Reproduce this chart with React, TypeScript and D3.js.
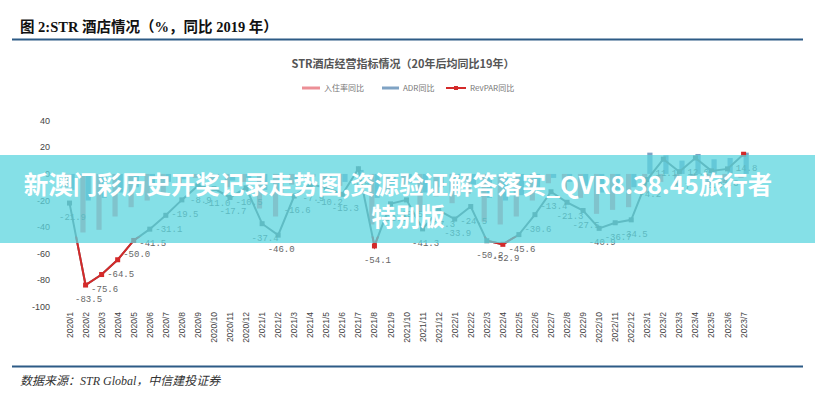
import React from 'react';
import * as d3 from 'd3';

const months = [
  '2020/1', '2020/2', '2020/3', '2020/4', '2020/5', '2020/6', '2020/7', '2020/8', '2020/9', '2020/10', '2020/11', '2020/12',
  '2021/1', '2021/2', '2021/3', '2021/4', '2021/5', '2021/6', '2021/7', '2021/8', '2021/9', '2021/10', '2021/11', '2021/12',
  '2022/1', '2022/2', '2022/3', '2022/4', '2022/5', '2022/6', '2022/7', '2022/8', '2022/9', '2022/10', '2022/11', '2022/12',
  '2023/1', '2023/2', '2023/3', '2023/4', '2023/5', '2023/6', '2023/7',
];

// RevPAR同比
const revpar = [
  -21.9, -83.5, -75.6, -64.5, -50.0, -41.5, -31.1, -19.5, -8.9, -11.0, -17.7, -10.5,
  -37.4, -46.0, -16.6, -7.9, -10.2, -15.3, 3.9, -54.1, -22.5, -19.5, -41.3, -27.3,
  -33.9, -24.5, -50.2, -52.9, -45.6, -30.6, -13.4, -21.3, -27.5, -40.9, -36.7, -34.5,
  -4.2, 11.1, 1.7, 12.0, 2.3, 3.8, 14.8,
];

// 入住率同比
const occupancy = [
  -10, -44, -42, -32, -25, -20, -14, -8, -3, -5, -10, -6,
  -26, -32, -8, -3, -5, -9, 0, -38, -12, -10, -28, -17,
  -22, -15, -36, -38, -32, -20, -7, -13, -18, -30, -27, -25,
  -14, -6, -9, -4, -8, -7, -3,
];

// ADR同比
const adr = [
  -12, -20, -18, -14, -10, -8, -6, -4, -2, -3, -5, -3,
  -12, -14, -6, -2, -4, -6, 3, -18, -8, -7, -14, -10,
  -12, -8, -18, -20, -16, -10, -3, -6, -9, -14, -12, -10,
  16, 14, 10, 15, 11, 12, 16,
];

// markers drawn in red
const redMarks = ['2020/2', '2020/3', '2020/4', '2020/5', '2021/8', '2022/4', '2023/7'];

const yTicks = [40, 20, 0, -20, -40, -60, -80, -100];

const W = 815;
const H = 400;

const App: React.FC = () => {
  const x = d3.scaleBand<string>().domain(months).range([61.5, 751.6]).paddingInner(0.35).paddingOuter(0.175);
  const xc = (m: string) => (x(m) || 0) + x.bandwidth() / 2;
  const y = d3.scaleLinear().domain([-100, 40]).range([307, 120.7]);
  const bw = x.bandwidth() / 2;

  const pts = months.map((m, i) => ({ m, v: revpar[i] }));
  const line = d3.line<{ m: string; v: number }>().x(d => xc(d.m)).y(d => y(d.v));
  const path = line(pts) || '';
  const cut = y(-47);

  return (
    <svg width={W} height={H} style={{ position: 'absolute', left: 0, top: 0, background: '#fff' }}>
      <defs>
        <clipPath id="low"><rect x={0} y={cut} width={W} height={H - cut} /></clipPath>
      </defs>
      <rect width={W} height={H} fill="#fff" />
      <text x={20} y={32} fontFamily="'Liberation Serif', 'Noto Sans CJK SC'" fontWeight="bold" fontSize={14.5} fill="#111">
        图 2:STR 酒店情况（%，同比 2019 年）
      </text>
      <line x1={12} x2={803} y1={39.5} y2={39.5} stroke="#2d5b86" strokeWidth={2} />

      <text x={403} y={68} textAnchor="middle" fontFamily="'Noto Sans CJK SC'" fontWeight="bold" fontSize={11} fill="#555">
        STR酒店经营指标情况（20年后均同比19年）
      </text>
      <g fontFamily="'Noto Sans CJK SC'" fontSize={8} fill="#777">
        <line x1={302} x2={320} y1={88} y2={88} stroke="#ec8f96" strokeWidth={3} />
        <text x={324} y={91}>入住率同比</text>
        <line x1={382} x2={399} y1={88} y2={88} stroke="#7fa3c4" strokeWidth={3} />
        <text x={403} y={91}>ADR同比</text>
        <line x1={446} x2={466} y1={88} y2={88} stroke="#d42a2a" strokeWidth={2} />
        <rect x={454} y={86} width={4} height={4} fill="#d42a2a" />
        <text x={470} y={91}>RevPAR同比</text>
      </g>

      <g fontFamily="Arial, 'Liberation Sans'" fontSize={9} fill="#444" textAnchor="end">
        {yTicks.map(t => (
          <text key={t} x={50} y={y(t) + 3}>{t}</text>
        ))}
      </g>

      {months.map((m, i) => (
        <g key={m}>
          <rect x={xc(m) - bw} y={y(Math.max(0, occupancy[i]))} width={bw} height={Math.abs(y(occupancy[i]) - y(0))} fill="#ec8f96" />
          <rect x={xc(m)} y={y(Math.max(0, adr[i]))} width={bw} height={Math.abs(y(adr[i]) - y(0))} fill="#7fa3c4" />
        </g>
      ))}

      <path d={path} fill="none" stroke="#6d7378" strokeWidth={2} />
      <path d={path} fill="none" stroke="#d42a2a" strokeWidth={2} clipPath="url(#low)" />
      {pts.map(p => (
        <rect key={p.m} x={xc(p.m) - 2.5} y={y(p.v) - 2.5} width={5} height={5}
          fill={redMarks.includes(p.m) ? '#d42a2a' : '#6d7378'} />
      ))}
      <g fontFamily="'Liberation Mono', monospace" fontSize={9} fill="#666" textAnchor="middle">
        {pts.map(p => (
          <text key={p.m} x={xc(p.m) + 3} y={y(p.v) + 17}>{p.v.toFixed(1)}</text>
        ))}
      </g>

      <g fontFamily="Arial, 'Liberation Sans'" fontSize={8.5} fill="#444">
        {months.map(m => (
          <text key={m} transform={`translate(${xc(m) + 3},312) rotate(-90)`} textAnchor="end">{m}</text>
        ))}
      </g>

      <line x1={12} x2={803} y1={366.5} y2={366.5} stroke="#2d5b86" strokeWidth={2} />
      <text x={20} y={385} fontFamily="'Liberation Serif', 'Noto Sans CJK SC'" fontStyle="italic" fontSize={12} fill="#333">
        数据来源：STR Global，中信建投证券
      </text>

      <rect x={0} y={155} width={W} height={88} fill="#5ad5de" opacity={0.74} />
      <g fontFamily="'Noto Sans CJK SC'" fontWeight="bold" fontSize={24.5} fill="#fff" textAnchor="middle">
        <text x={398} y={194}>新澳门彩历史开奖记录走势图,资源验证解答落实_QVR8.38.45旅行者</text>
        <text x={408} y={226}>特别版</text>
      </g>
    </svg>
  );
};

export default App;
